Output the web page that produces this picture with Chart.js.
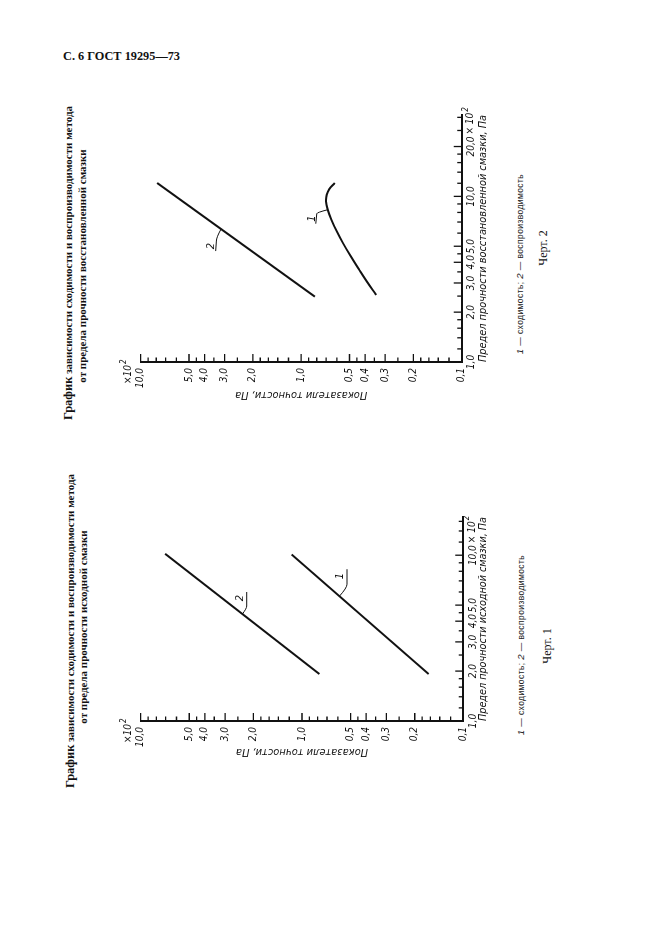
<!DOCTYPE html>
<html>
<head>
<meta charset="utf-8">
<script src="https://cdn.jsdelivr.net/npm/chart.js@4.4.0/dist/chart.umd.min.js"></script>
<style>
body{margin:0;width:661px;height:936px;background:#fff;position:relative;overflow:hidden}
#hdr{position:absolute;left:63px;top:50px;font:bold 12.3px "Liberation Serif",serif;line-height:13px;color:#111;white-space:nowrap}
#land{position:absolute;left:0;top:0;width:936px;height:661px;transform-origin:0 0;transform:translateY(936px) rotate(-90deg)}
#land canvas{position:absolute}
.t{position:absolute;width:400px;text-align:center;white-space:nowrap;color:#111}
.ttl{font:bold 11px "Liberation Serif",serif;line-height:13px}
.ttl b{font-size:12.5px}
.cap{font:8.5px "Liberation Sans",sans-serif;line-height:10px;color:#222;letter-spacing:0.4px}
.cap i{font-size:9.5px}
.chert{font:12px "Liberation Serif",serif;line-height:14px}
</style>
</head>
<body>
<div id="hdr">С. 6 ГОСТ 19295—73</div>
<div id="land">
  <div class="t ttl" style="left:105px;top:64px"><b>График</b> зависимости сходимости и воспроизводимости метода</div>
  <div class="t ttl" style="left:109px;top:77px">от предела прочности исходной смазки</div>
  <div class="t ttl" style="left:473px;top:62px"><b>График</b> зависимости сходимости и воспроизводимости метода</div>
  <div class="t ttl" style="left:470px;top:76px">от предела прочности восстановленной смазки</div>
  <canvas id="chart1" width="300" height="400" style="left:140px;top:100px"></canvas>
  <canvas id="chart2" width="340" height="400" style="left:500px;top:100px"></canvas>
  <div class="t cap" style="left:91px;top:516px"><i>1</i> — сходимость; <i>2</i> — воспроизводимость</div>
  <div class="t cap" style="left:472px;top:515px"><i>1</i> — сходимость; <i>2</i> — воспроизводимость</div>
  <div class="t chert" style="left:90px;top:540px">Черт. 1</div>
  <div class="t chert" style="left:488px;top:536px">Черт. 2</div>
</div>
<script>
// values in units of 10^2 Pa
const yMajor = [10, 5, 4, 3, 2, 1, 0.5, 0.4, 0.3, 0.2, 0.1];
const yLabels = ['10,0', '5,0', '4,0', '3,0', '2,0', '1,0', '0,5', '0,4', '0,3', '0,2', '0,1'];
const yMinor = [9, 8, 7, 6, 4.5, 3.5, 2.5, 1.8, 1.6, 1.4, 1.2, 0.9, 0.8, 0.7, 0.6, 0.45, 0.35, 0.25, 0.18, 0.16, 0.14, 0.12];

const x1Major = [1, 2, 3, 4, 5, 10];
const x1Labels = ['1,0', '2,0', '3,0', '4,0', '5,0', '10,0'];
const x2Major = [1, 2, 3, 4, 5, 10, 20];
const x2Labels = ['1,0', '2,0', '3,0', '4,0', '5,0', '10,0', '20,0'];
const xMinor = [1.2, 1.4, 1.6, 1.8, 2.5, 3.5, 4.5, 6, 7, 8, 9, 12, 14, 16, 18, 25, 30];

// Черт. 1 - исходная смазка
const ch1Line1X = [1.92, 10.1];
const ch1Line1Y = [0.164, 1.16];
const ch1Line2X = [1.92, 10.2];
const ch1Line2Y = [0.78, 7.05];

// Черт. 2 - восстановленная смазка
const ch2Line1X = [2.54, 3.06, 3.60, 4.34, 5.22, 6.14, 7.23, 8.31, 9.33, 10.24, 11.09, 12.05];
const ch2Line1Y = [0.341, 0.390, 0.435, 0.491, 0.549, 0.600, 0.648, 0.683, 0.701, 0.694, 0.667, 0.617];
const ch2Line2X = [2.48, 12.05];
const ch2Line2Y = [0.821, 7.9];

const ink = '#111';
const tickFont = { family: '"Liberation Sans Narrow", "DejaVu Sans Condensed", "Liberation Sans", sans-serif', size: 10, style: 'italic' };
const titleFont = { family: '"Liberation Sans Narrow", "DejaVu Sans Condensed", "Liberation Sans", sans-serif', size: 11, style: 'italic' };

function labelFor(v, vals, labels) {
    const i = vals.findIndex(m => Math.abs(m - v) < 1e-9);
    return i < 0 ? '' : labels[i];
}

// value on a series at x, interpolated in log space
function valueAt(xs, ys, x) {
    const lx = Math.log10(x);
    for (let i = 0; i < xs.length - 1; i++) {
        const a = Math.log10(xs[i]), b = Math.log10(xs[i + 1]);
        if (lx >= a && lx <= b) {
            const t = (lx - a) / (b - a);
            return Math.pow(10, Math.log10(ys[i]) + t * (Math.log10(ys[i + 1]) - Math.log10(ys[i])));
        }
    }
    return ys[ys.length - 1];
}

function drawPow(ctx, x, y, base) {
    ctx.font = 'italic 10px ' + tickFont.family;
    ctx.textBaseline = 'middle';
    ctx.textAlign = 'left';
    ctx.fillText(base, x, y);
    const w = ctx.measureText(base).width;
    ctx.font = 'italic 8px ' + tickFont.family;
    ctx.fillText('2', x + w + 1, y - 5);
}

function marksPlugin(o) {
    return {
        id: 'marks',
        afterDatasetsDraw(chart) {
            const ctx = chart.ctx, a = chart.chartArea;
            const xs = chart.scales.x, ys = chart.scales.y;
            ctx.save();
            ctx.strokeStyle = ink;
            ctx.fillStyle = ink;
            ctx.lineWidth = 1.3;
            ctx.beginPath();
            yMajor.forEach(v => { const p = ys.getPixelForValue(v); ctx.moveTo(a.left, p); ctx.lineTo(a.left + 8, p); });
            yMinor.forEach(v => { const p = ys.getPixelForValue(v); ctx.moveTo(a.left, p); ctx.lineTo(a.left + 4.5, p); });
            o.xMajor.forEach(v => { const p = xs.getPixelForValue(v); ctx.moveTo(p, a.bottom); ctx.lineTo(p, a.bottom - 8); });
            xMinor.filter(v => v < o.xMax).forEach(v => { const p = xs.getPixelForValue(v); ctx.moveTo(p, a.bottom); ctx.lineTo(p, a.bottom - 4.5); });
            ctx.stroke();

            // multiplier marks
            ctx.font = 'italic 10px ' + tickFont.family;
            const yTop = ys.getPixelForValue(10);
            const wx = ctx.measureText('×10').width;
            drawPow(ctx, a.left - 3 - wx, yTop - 12, '×10');
            const last = o.xMajor[o.xMajor.length - 1];
            drawPow(ctx, xs.getPixelForValue(last) + 12, a.bottom + 9, '× 10');

            // callouts
            ctx.lineWidth = 1;
            o.callouts.forEach(c => {
                const s = o.series[c.series];
                const px = xs.getPixelForValue(c.x);
                const py = ys.getPixelForValue(valueAt(s.x, s.y, c.x));
                ctx.beginPath();
                ctx.moveTo(px, py);
                ctx.quadraticCurveTo(px + c.d1[0] * 0.7, py + c.d1[1], px + c.d1[0], py + c.d1[1]);
                ctx.lineTo(px + c.d2[0], py + c.d2[1]);
                ctx.stroke();
                ctx.font = 'italic 11px ' + titleFont.family;
                ctx.textAlign = 'center';
                ctx.textBaseline = 'middle';
                ctx.fillText(c.text, px + c.t[0], py + c.t[1]);
            });
            ctx.restore();
        }
    };
}

function buildChart(id, o) {
    new Chart(document.getElementById(id), {
        type: 'scatter',
        data: {
            datasets: o.series.map(s => ({
                data: s.x.map((x, k) => ({ x: x, y: s.y[k] })),
                showLine: true,
                borderColor: ink,
                borderWidth: 2,
                pointRadius: 0,
                tension: s.tension,
                fill: false
            }))
        },
        options: {
            responsive: false,
            animation: false,
            devicePixelRatio: 1,
            layout: { padding: { top: o.padTop, right: o.padRight, left: 0, bottom: 0 } },
            plugins: { legend: { display: false }, tooltip: { enabled: false } },
            scales: {
                x: {
                    type: 'logarithmic', position: 'bottom', min: 1, max: o.xMax,
                    afterBuildTicks: s => { s.ticks = o.xMajor.concat(xMinor.filter(v => v < o.xMax)).map(value => ({ value })); },
                    afterFit: s => { s.height = o.xHeight; },
                    ticks: { autoSkip: false, maxRotation: 0, minRotation: 0, padding: 4, color: ink, font: tickFont,
                        callback: v => labelFor(v, o.xMajor, o.xLabels) },
                    grid: { display: false, drawTicks: false },
                    border: { display: true, color: ink, width: 2 },
                    title: { display: true, text: o.xTitle, color: ink, font: titleFont, padding: { top: 0, bottom: 10.4 } }
                },
                y: {
                    type: 'logarithmic', position: 'left', min: 0.1, max: 10,
                    afterBuildTicks: s => { s.ticks = yMajor.concat(yMinor).map(value => ({ value })); },
                    afterFit: s => { s.width = o.yWidth; },
                    ticks: { autoSkip: false, padding: 6, color: ink, font: tickFont,
                        callback: v => labelFor(v, yMajor, yLabels) },
                    grid: { display: false, drawTicks: false },
                    border: { display: true, color: ink, width: 2 },
                    title: { display: true, text: 'Показатели точности, Па', color: ink, font: titleFont, padding: { top: o.yTitlePad, bottom: 0 } }
                }
            }
        },
        plugins: [marksPlugin(o)]
    });
}

buildChart('chart1', {
    series: [{ x: ch1Line1X, y: ch1Line1Y, tension: 0 }, { x: ch1Line2X, y: ch1Line2Y, tension: 0 }],
    xMajor: x1Major, xLabels: x1Labels, xMax: 17,
    xTitle: 'Предел прочности исходной смазки, Па',
    padTop: 40.7, padRight: 21, xHeight: 36.7, yWidth: 75, yTitlePad: 37.7,
    callouts: [
        { text: '1', series: 0, x: 5.66, d1: [12, 7.6], d2: [27, 7.6], t: [20, 1] },
        { text: '2', series: 1, x: 4.42, d1: [8, 4.3], d2: [22, 4.3], t: [16, -2] }
    ]
});

buildChart('chart2', {
    series: [{ x: ch2Line1X, y: ch2Line1Y, tension: 0.4 }, { x: ch2Line2X, y: ch2Line2Y, tension: 0 }],
    xMajor: x2Major, xLabels: x2Labels, xMax: 31,
    xTitle: 'Предел прочности восстановленной смазки, Па',
    padTop: 40.7, padRight: 19, xHeight: 38.3, yWidth: 74, yTitlePad: 34.4,
    callouts: [
        { text: '1', series: 0, x: 8.31, d1: [-4, -11], d2: [-14, -12], t: [-9, -16] },
        { text: '2', series: 1, x: 6.35, d1: [-12, -4.7], d2: [-22, -5.4], t: [-17, -10] }
    ]
});
</script>
</body>
</html>
